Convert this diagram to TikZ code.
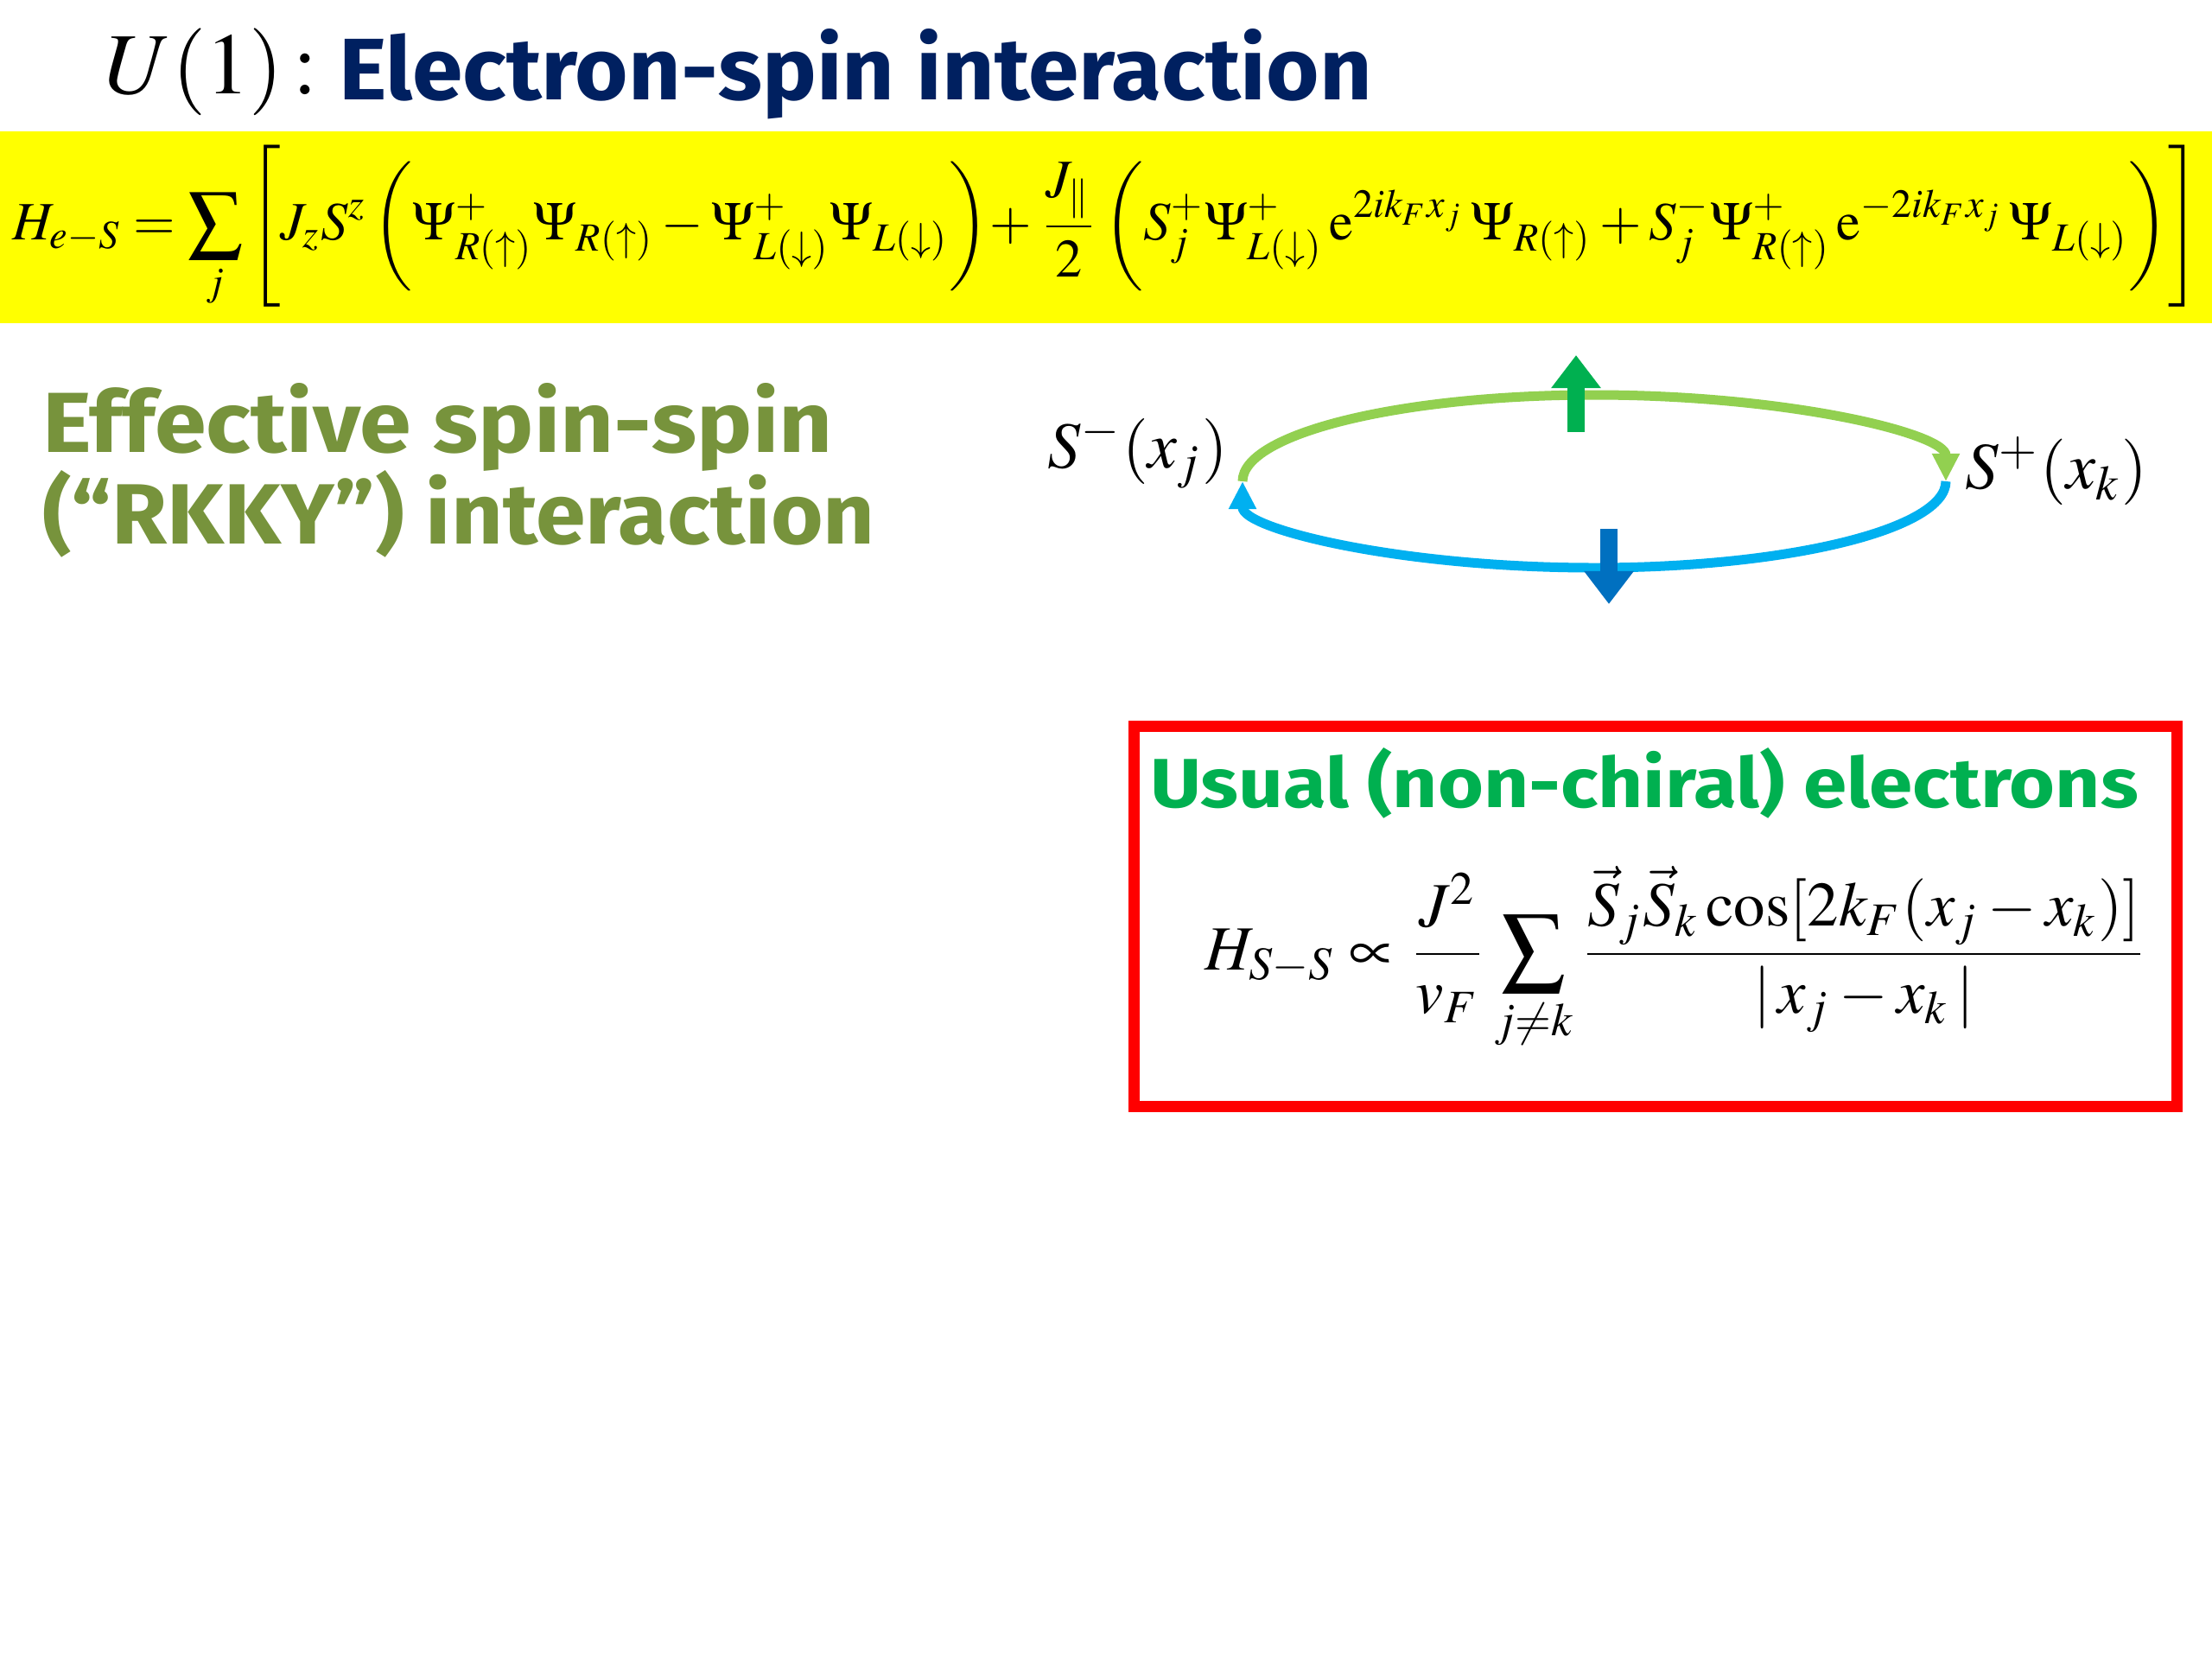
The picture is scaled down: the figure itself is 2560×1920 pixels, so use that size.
\documentclass[tikz,border=0pt]{standalone}
\usepackage{mathptmx}
\usepackage{fontspec}
\setmainfont{Liberation Serif}
\newfontfamily\comic{Fira Sans}
\usetikzlibrary{arrows.meta}
\definecolor{navy}{HTML}{002060}
\definecolor{olive}{HTML}{77933C}
\definecolor{dgreen}{HTML}{00B050}
\definecolor{lgreen}{HTML}{92D050}
\definecolor{lblue}{HTML}{00B0F0}
\definecolor{dblue}{HTML}{0070C0}
\definecolor{bandyellow}{HTML}{FFFF00}
\definecolor{boxred}{HTML}{FF0000}
\tikzset{
  txt/.style={inner sep=0pt, outer sep=0pt},
  arcline/.style={line width=0.11cm, -{Triangle[length=0.32cm,width=0.3cm]}},
  spinarrow/.style={line width=0.2cm, -{Triangle[length=0.38cm,width=0.55cm]}},
}
\begin{document}
\begin{tikzpicture}[x=0.01cm,y=0.01cm]
\useasboundingbox (0,0) rectangle (2560,-1920);
\fill[white] (0,0) rectangle (2560,-1920);
% title
\node[txt, anchor=base west] (u1) at (122,-108) {\resizebox{2.45cm}{!}{$U(1)\!:$}};
\node[txt, anchor=base west, text=navy] (title) at (392,-115) {\resizebox{11.95cm}{0.82cm}{\comic\bfseries Electron-spin interaction}};
% yellow band
\fill[bandyellow] (0,-152) rectangle (2560,-374);
\node[txt] (hes) at (1280,-262) {\resizebox{25.3cm}{!}{$\displaystyle H_{e-S}=\sum_j\left[\rule[-13pt]{0pt}{31pt}J_zS^z\left(\rule[-6pt]{0pt}{21pt}\Psi^+_{R(\uparrow)}\Psi_{R(\uparrow)}-\Psi^+_{L(\downarrow)}\Psi_{L(\downarrow)}\right)\!+\frac{J_{\parallel}}{2}\left(\rule[-6pt]{0pt}{21pt}S_j^+\Psi^+_{L(\downarrow)}\,\mathrm{e}^{2ik_Fx_j}\,\Psi_{R(\uparrow)}+S_j^-\Psi^+_{R(\uparrow)}\,\mathrm{e}^{-2ik_Fx_j}\,\Psi_{L(\downarrow)}\right)\right]$}};
% effective spin-spin
\node[txt, anchor=base west, text=olive] (eff1) at (49,-523) {\resizebox{9.14cm}{0.8cm}{\comic\bfseries Effective spin-spin}};
\node[txt, anchor=base west, text=olive] (eff2) at (49,-629) {\resizebox{9.63cm}{0.85cm}{\comic\bfseries (“RKKY”) interaction}};
% loop diagram
\node[txt] (sm) at (1317,-523) {\resizebox{2.08cm}{!}{$S^-(x_j)$}};
\node[txt] (sp) at (2380,-545) {\resizebox{2.1cm}{!}{$S^+(x_k)$}};
\coordinate (L) at (1438,-557);
\coordinate (R) at (2252,-557);
\draw[arcline, lgreen] (L) arc[start angle=180, end angle=0, x radius=407, y radius=100];
\draw[arcline, lblue] (R) arc[start angle=0, end angle=-180, x radius=407, y radius=100];
\coordinate (gs) at (1824,-500);
\coordinate (ge) at (1824,-411);
\coordinate (bs) at (1862,-612);
\coordinate (be) at (1862,-699);
\draw[spinarrow, dgreen] (gs) -- (ge);
\draw[spinarrow, dblue] (bs) -- (be);
% red box
\node[draw=boxred, line width=0.13cm, minimum width=12.07cm, minimum height=4.4cm, anchor=north west, inner sep=0pt, outer sep=0pt] (box) at (1312,-840) {};
\node[txt, anchor=base west, text=dgreen] (usual) at (1331,-934) {\resizebox{11.43cm}{0.69cm}{\comic\bfseries Usual (non-chiral) electrons}};
\node[txt] (hss) at (1940,-1110) {\resizebox{10.9cm}{!}{$\displaystyle H_{S-S}\propto\frac{J^2}{v_F}\sum_{j\neq k}\frac{\vec S_j\vec S_k\cos[2k_F(x_j-x_k)]}{|\,x_j-x_k\,|}$}};
\end{tikzpicture}
\end{document}
